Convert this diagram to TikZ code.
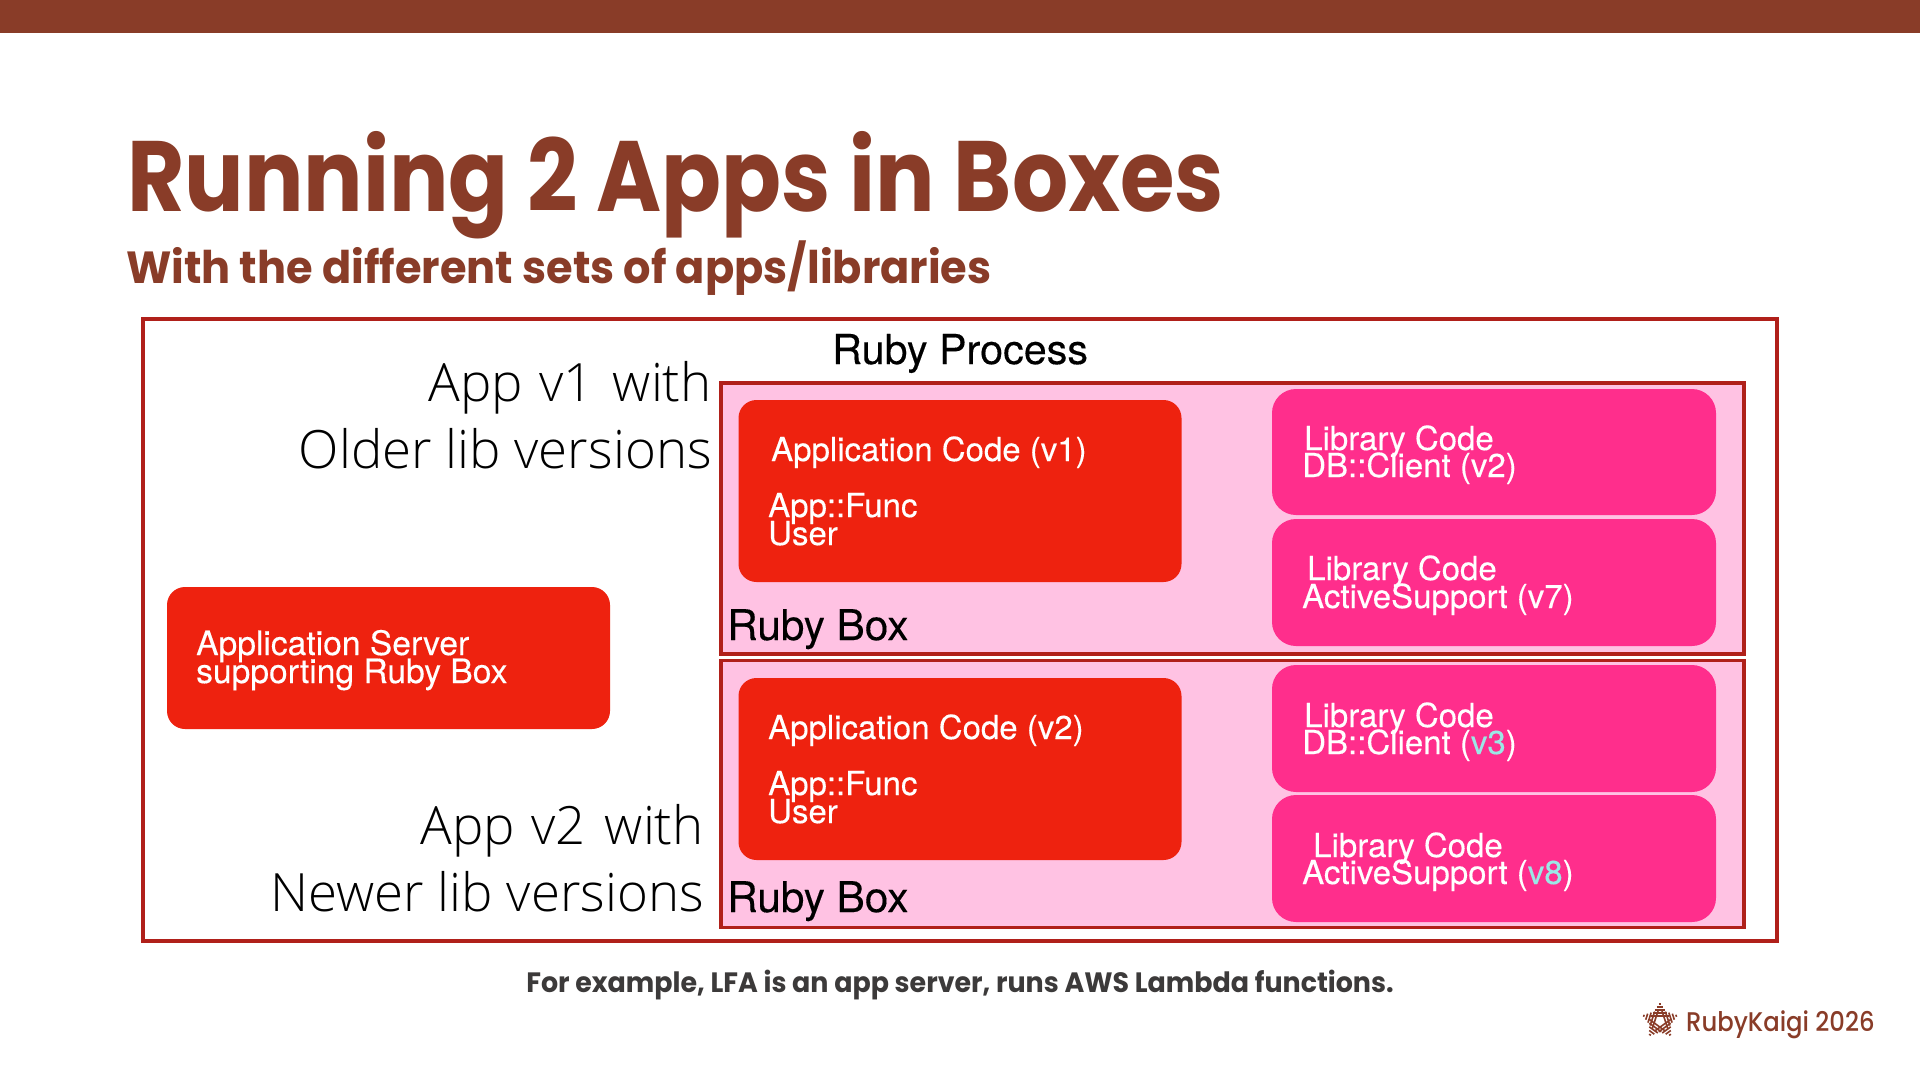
\documentclass[tikz,border=0pt]{standalone}
\usepackage{fontspec}
\setmainfont[FakeBold=0.25]{TeX Gyre Heros}
\newfontfamily\titlefont[UprightFont=* Bold,FakeStretch=0.883]{Poppins}
\newfontfamily\subfont[UprightFont=* Bold,FakeStretch=0.958]{Poppins}
\newfontfamily\footfont[UprightFont=* Bold,FakeStretch=0.96]{Poppins}
\newfontfamily\medfont[UprightFont=* Medium,FakeStretch=0.9]{Poppins}
\newfontfamily\lightfont[UprightFont=* Light]{Open Sans}
\definecolor{brick}{HTML}{893C28}
\definecolor{frameRed}{HTML}{B0201A}
\definecolor{appRed}{HTML}{EE220F}
\definecolor{boxPink}{HTML}{FFC2E3}
\definecolor{libPink}{HTML}{FF2E8C}
\definecolor{teal}{HTML}{9BE8E6}
\definecolor{footGray}{HTML}{3C3A3A}
\tikzset{
  framebox/.style={draw=frameRed,line width=3.5pt,inner sep=0pt},
  appbox/.style={fill=appRed,rounded corners=18pt,inner sep=0pt,minimum width=443pt},
  libbox/.style={fill=libPink,rounded corners=24pt,inner sep=0pt,minimum width=444pt},
  whitetxt/.style={text=white,anchor=base west,inner sep=0pt,font=\fontsize{33}{33}\selectfont},
  servertxt/.style={whitetxt,font=\fontsize{33.6}{33}\selectfont},
  blacktxt/.style={text=black,anchor=base west,inner sep=0pt,font=\fontsize{41.3}{41}\selectfont},
  boxtxt/.style={blacktxt,font=\fontsize{42.3}{41}\selectfont},
  sidetxt/.style={text=black,anchor=base east,inner sep=0pt,font=\lightfont\fontsize{52.8}{53}\selectfont},
  hatch/.style={draw=brick,line width=1.6pt}
}
\begin{document}
\begin{tikzpicture}[x=1pt,y=-1pt]
\useasboundingbox (0,0) rectangle (1920,1080);
\fill[white] (0,0) rectangle (1920,1080);
\fill[brick] (0,0) rectangle (1920,33);
\node[anchor=base west,inner sep=0pt,text=brick,font=\titlefont\fontsize{100}{100}\selectfont] (title) at (127,211) {Running 2 Apps in Boxes};
\node[anchor=base west,inner sep=0pt,text=brick,font=\subfont\fontsize{45}{45}\selectfont] (subtitle) at (126,283) {With the different sets of apps/libraries};

\node[framebox,minimum width=1634pt,minimum height=622pt] (process) at (960,630) {};
\node[framebox,fill=boxPink,minimum width=1023pt,minimum height=271pt] (boxA) at (1232.5,518.5) {};
\node[framebox,fill=boxPink,minimum width=1023pt,minimum height=267pt] (boxB) at (1232.5,794) {};

\node[appbox,minimum height=142pt] (server) at (388.5,658) {};
\node[appbox,minimum height=182pt] (appA) at (960,491) {};
\node[appbox,minimum height=182pt] (appB) at (960,769) {};
\node[libbox,minimum height=126pt] (libA) at (1494,452) {};
\node[libbox,minimum height=127pt] (libB) at (1494,582.5) {};
\node[libbox,minimum height=127pt] (libC) at (1494,728.5) {};
\node[libbox,minimum height=127pt] (libD) at (1494,858.5) {};

\node[blacktxt] (tProcess) at (832,364) {Ruby Process};
\node[boxtxt] (tBoxA) at (727,640) {Ruby Box};
\node[boxtxt] (tBoxB) at (727,912) {Ruby Box};
\node[sidetxt] (s1) at (712,401) {App\hspace{3pt} v1\hspace{5pt} with};
\node[sidetxt] (s2) at (712,468) {Older lib versions};
\node[sidetxt] (s3) at (704,844) {App\hspace{3pt} v2\hspace{5pt} with};
\node[sidetxt] (s4) at (704,911) {Newer lib versions};

\node[servertxt] (sv1) at (196,655) {Application Server};
\node[servertxt] (sv2) at (196,683) {supporting Ruby Box};
\node[whitetxt] (a1) at (771,461) {Application Code (v1)};
\node[whitetxt] (a2) at (768,517) {App::Func};
\node[whitetxt] (a3) at (768,545) {User};
\node[whitetxt] (b1) at (768,739) {Application Code (v2)};
\node[whitetxt] (b2) at (768,795) {App::Func};
\node[whitetxt] (b3) at (768,823) {User};
\node[whitetxt] (l1) at (1304,450) {Library Code};
\node[whitetxt] (l2) at (1302,477) {DB::Client (v2)};
\node[whitetxt] (l3) at (1307,580) {Library Code};
\node[whitetxt] (l4) at (1302,608) {ActiveSupport (v7)};
\node[whitetxt] (l5) at (1304,727) {Library Code};
\node[whitetxt] (l6) at (1302,754) {DB::Client (\textcolor{teal}{v3})};
\node[whitetxt] (l7) at (1313,857) {Library Code};
\node[whitetxt] (l8) at (1302,884) {ActiveSupport (\textcolor{teal}{v8})};

\node[anchor=base,inner sep=0pt,text=footGray,font=\footfont\fontsize{28}{28}\selectfont] (foot) at (960,992) {For example, LFA is an app server, runs AWS Lambda functions.};

\node[anchor=base west,inner sep=0pt,text=brick,font=\medfont\fontsize{27}{27}\selectfont] (logoText) at (1686,1031) {RubyKaigi 2026};
\begin{scope}[shift={(1660,1021)}]
\foreach \r in {0,72,144,216,288}{
  \begin{scope}[rotate=\r]
    \foreach \d in {-17,-14,-11,-8,-5}{
      \path[hatch] ({(\d+18.5)*(-0.7)},\d) -- ({(\d+18.5)*0.7},\d);
    }
  \end{scope}
}
\end{scope}
\end{tikzpicture}
\end{document}
